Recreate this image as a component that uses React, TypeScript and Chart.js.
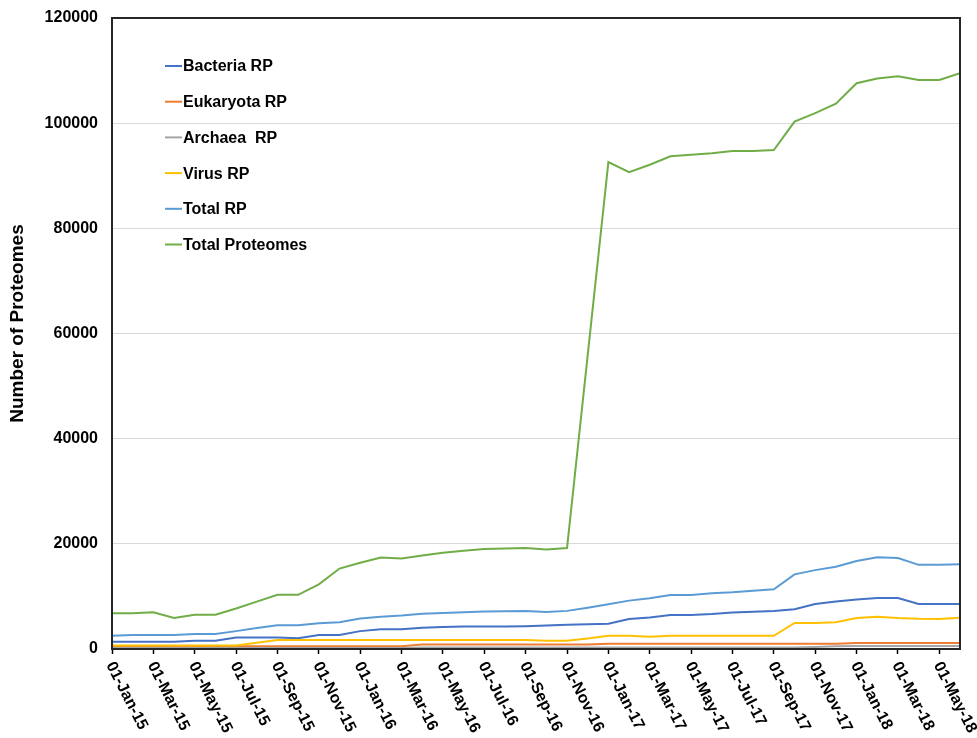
import React, { useEffect, useRef } from 'react';
import { Chart, registerables } from 'chart.js';

Chart.register(...registerables);

// Monthly snapshots, Jan-15 .. Jun-18
const months = [
  'Jan-15', 'Feb-15', 'Mar-15', 'Apr-15', 'May-15', 'Jun-15', 'Jul-15', 'Aug-15', 'Sep-15', 'Oct-15', 'Nov-15', 'Dec-15',
  'Jan-16', 'Feb-16', 'Mar-16', 'Apr-16', 'May-16', 'Jun-16', 'Jul-16', 'Aug-16', 'Sep-16', 'Oct-16', 'Nov-16', 'Dec-16',
  'Jan-17', 'Feb-17', 'Mar-17', 'Apr-17', 'May-17', 'Jun-17', 'Jul-17', 'Aug-17', 'Sep-17', 'Oct-17', 'Nov-17', 'Dec-17',
  'Jan-18', 'Feb-18', 'Mar-18', 'Apr-18', 'May-18', 'Jun-18',
];

const xTickLabels = [
  '01-Jan-15', '01-Mar-15', '01-May-15', '01-Jul-15', '01-Sep-15', '01-Nov-15',
  '01-Jan-16', '01-Mar-16', '01-May-16', '01-Jul-16', '01-Sep-16', '01-Nov-16',
  '01-Jan-17', '01-Mar-17', '01-May-17', '01-Jul-17', '01-Sep-17', '01-Nov-17',
  '01-Jan-18', '01-Mar-18', '01-May-18',
];

const yTickValues = [0, 20000, 40000, 60000, 80000, 100000, 120000];

const bacteriaRP = [
  1400, 1400, 1400, 1400, 1550, 1550, 2200, 2200, 2200, 2050, 2650, 2650,
  3400, 3750, 3750, 4050, 4200, 4300, 4300, 4300, 4350, 4450, 4600, 4700,
  4800, 5700, 6000, 6450, 6450, 6650, 6950, 7100, 7250, 7550, 8550, 9050,
  9400, 9700, 9700, 8550, 8550, 8550,
];

const eukaryotaRP = [
  500, 500, 500, 500, 500, 500, 500, 500, 500, 500, 500, 500,
  500, 500, 500, 850, 850, 850, 850, 850, 850, 850, 850, 850,
  1000, 1000, 1000, 1000, 1000, 1000, 1000, 1000, 1000, 1000, 1000, 1000,
  1150, 1150, 1150, 1150, 1150, 1150,
];

const archaeaRP = [
  200, 200, 200, 200, 200, 200, 200, 200, 200, 200, 200, 200,
  200, 200, 200, 300, 300, 300, 300, 300, 300, 300, 300, 300,
  300, 300, 300, 300, 300, 300, 300, 300, 300, 300, 400, 500,
  550, 550, 550, 550, 550, 550,
];

const virusRP = [
  650, 650, 650, 650, 650, 650, 650, 1200, 1700, 1700, 1700, 1700,
  1700, 1700, 1700, 1700, 1700, 1700, 1700, 1700, 1700, 1550, 1550, 2000,
  2500, 2500, 2350, 2500, 2500, 2500, 2500, 2500, 2500, 4950, 4950, 5100,
  5900, 6150, 5900, 5750, 5700, 5950,
];

const totalRP = [
  2500, 2650, 2650, 2650, 2850, 2850, 3400, 4000, 4500, 4500, 4900, 5100,
  5800, 6150, 6350, 6700, 6850, 7000, 7150, 7200, 7250, 7050, 7250, 7850,
  8500, 9200, 9650, 10270, 10270, 10600, 10800, 11100, 11350, 14200, 15000, 15650,
  16750, 17450, 17300, 16000, 16000, 16100,
];

const totalProteomes = [
  6800, 6800, 7000, 5900, 6500, 6500, 7700, 9000, 10300, 10300, 12300, 15300,
  16400, 17400, 17200, 17800, 18300, 18700, 19000, 19100, 19200, 18900, 19200, null,
  92600, 90700, 92100, 93700, 94000, 94300, 94700, 94700, 94900, 100300, 101900, 103700,
  107600, 108500, 108900, 108200, 108200, 109500,
];

const seriesNames = ['Bacteria RP', 'Eukaryota RP', 'Archaea  RP', 'Virus RP', 'Total RP', 'Total Proteomes'];
const seriesColors = ['#4472C4', '#ED7D31', '#A5A5A5', '#FFC000', '#5B9BD5', '#70AD47'];
const seriesValues = [bacteriaRP, eukaryotaRP, archaeaRP, virusRP, totalRP, totalProteomes];

const FONT = '"Liberation Sans", Arial, sans-serif';

const customDraw = {
  id: 'customDraw',
  afterDraw(chart: any) {
    const { ctx, chartArea: a, scales } = chart;
    const xs = scales.x;
    ctx.save();
    // plot frame
    ctx.strokeStyle = '#262626';
    ctx.lineWidth = 2;
    ctx.strokeRect(a.left, a.top, a.right - a.left, a.bottom - a.top);

    // rotated x tick labels (clockwise)
    ctx.font = `bold 16px ${FONT}`;
    ctx.fillStyle = '#000';
    ctx.textAlign = 'left';
    ctx.textBaseline = 'middle';
    xs.ticks.forEach((t: any) => {
      const label = xTickLabels[Math.round(t.value / 2)];
      if (!label) return;
      const px = xs.getPixelForValue(t.value);
      ctx.save();
      ctx.translate(px - 2, a.bottom + 14);
      ctx.rotate((63 * Math.PI) / 180);
      ctx.fillText(label, 0, 0);
      ctx.restore();
    });

    // y axis title (bold, rotated)
    ctx.save();
    ctx.font = `bold 19px ${FONT}`;
    ctx.fillStyle = '#000';
    ctx.textAlign = 'center';
    ctx.textBaseline = 'middle';
    ctx.translate(18, (a.top + a.bottom) / 2 - 10);
    ctx.rotate(-Math.PI / 2);
    ctx.fillText('Number of Proteomes', 0, 0);
    ctx.restore();

    // legend inside plot area
    chart.data.datasets.forEach((ds: any, i: number) => {
      const y = a.top + 48 + i * 35.7;
      ctx.strokeStyle = ds.borderColor;
      ctx.lineWidth = 2;
      ctx.beginPath();
      ctx.moveTo(a.left + 53, y);
      ctx.lineTo(a.left + 70, y);
      ctx.stroke();
      ctx.fillStyle = '#000';
      ctx.font = `bold 16px ${FONT}`;
      ctx.textAlign = 'left';
      ctx.textBaseline = 'middle';
      ctx.fillText(ds.label, a.left + 71, y + 1);
    });
    ctx.restore();
  },
};

export default function App() {
  const canvasRef = useRef<HTMLCanvasElement | null>(null);

  useEffect(() => {
    if (!canvasRef.current) return;
    const datasets = seriesNames.map((name, i) => ({
      label: name,
      data: seriesValues[i].map((v, j) => ({ x: j, y: v })),
      borderColor: seriesColors[i],
      backgroundColor: seriesColors[i],
      borderWidth: 2,
      pointRadius: 0,
      tension: 0,
      fill: false,
      spanGaps: true,
      order: seriesNames.length - i,
    }));

    const chart = new Chart(canvasRef.current, {
      type: 'line',
      data: { datasets },
      plugins: [customDraw],
      options: {
        animation: false,
        responsive: false,
        layout: { padding: { left: 0, top: 18, right: 17, bottom: 0 } },
        plugins: {
          legend: { display: false },
          tooltip: { enabled: false },
        },
        scales: {
          x: {
            type: 'linear',
            min: 0,
            max: months.length - 1,
            ticks: { display: false },
            afterBuildTicks: (scale: any) => {
              scale.ticks = xTickLabels.map((_, i) => ({ value: i * 2 }));
            },
            afterFit: (scale: any) => {
              scale.height = 89;
              scale.paddingLeft = 0;
              scale.paddingRight = 0;
            },
            grid: {
              display: true,
              drawOnChartArea: false,
              drawTicks: true,
              tickLength: 5,
              tickColor: '#000',
              tickWidth: 1.5,
            },
            border: { display: false },
          },
          y: {
            type: 'linear',
            min: yTickValues[0],
            max: yTickValues[yTickValues.length - 1],
            afterBuildTicks: (scale: any) => {
              scale.ticks = yTickValues.map((v) => ({ value: v }));
            },
            afterFit: (scale: any) => {
              scale.width = 112;
              scale.paddingTop = 0;
              scale.paddingBottom = 0;
            },
            ticks: {
              padding: 14,
              color: '#000',
              font: { family: FONT, size: 16, weight: 'bold' },
              callback: (v: any) => String(v),
            },
            grid: {
              color: '#D9D9D9',
              lineWidth: 1,
              drawTicks: false,
            },
            border: { display: false },
          },
        },
      } as any,
    });
    return () => chart.destroy();
  }, []);

  return (
    <div style={{ position: 'absolute', left: 0, top: 0, width: 977, height: 738, background: '#fff' }}>
      <canvas ref={canvasRef} width={977} height={738} style={{ display: 'block' }} />
    </div>
  );
}
